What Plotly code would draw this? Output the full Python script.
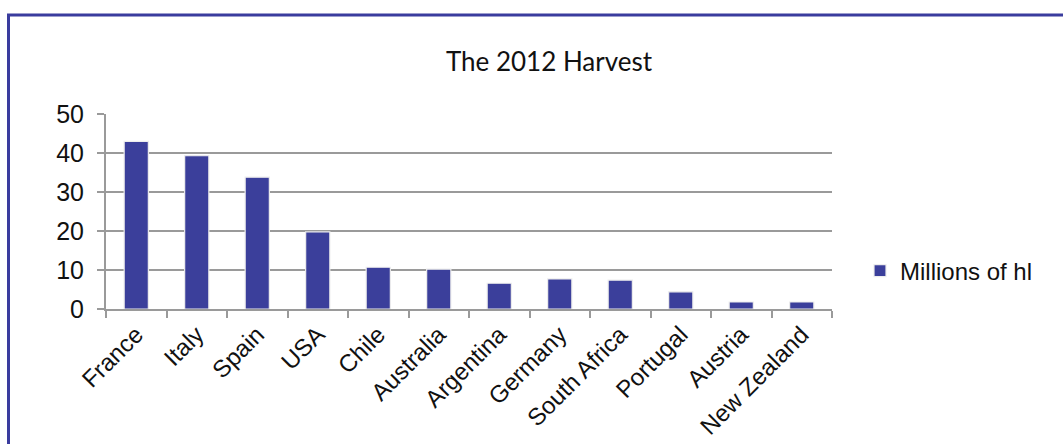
import plotly.graph_objects as go

countries = ["France", "Italy", "Spain", "USA", "Chile", "Australia", "Argentina",
             "Germany", "South Africa", "Portugal", "Austria", "New Zealand"]
millions_hl = [43.0, 39.3, 33.8, 19.8, 10.7, 10.2, 6.6, 7.7, 7.4, 4.4, 1.8, 1.8]
series_name = "Millions of hl"
title_text = "The 2012 Harvest"

W, H = 1063, 444
L, R, T, B = 106, 231, 114, 135
pw, ph = W - L - R, H - T - B

def px_x(x):
    return (x - L) / pw

def px_y(y):
    return (H - B - y) / ph

fig = go.Figure()
fig.add_trace(go.Bar(
    x=countries, y=millions_hl, name=series_name,
    marker=dict(color="#3B3F9B", line=dict(color="#EDEDED", width=1.2)),
    width=0.4, showlegend=True,
))

fig.update_layout(
    width=W, height=H,
    margin=dict(l=L, r=R, t=T, b=B, autoexpand=False),
    paper_bgcolor="white", plot_bgcolor="white",
    font=dict(family="Liberation Sans, Arial", size=24, color="#111111"),
    title=dict(text=title_text, x=px_x(549), xref="paper", xanchor="center",
               y=1 - 62 / H, yanchor="middle",
               font=dict(family="Lato", size=26, color="#111111")),
    showlegend=True,
    legend=dict(x=px_x(860), y=px_y(271), xanchor="left", yanchor="middle",
                font=dict(size=24), itemwidth=30, bgcolor="rgba(0,0,0,0)"),
    bargap=0.6,
    shapes=[dict(type="rect", xref="paper", yref="paper",
                 x0=px_x(8.5), x1=px_x(1080), y0=px_y(470), y1=px_y(15),
                 line=dict(color="#3A3C9E", width=3), fillcolor="rgba(0,0,0,0)",
                 layer="below")],
)

fig.update_xaxes(
    type="category", showline=True, linecolor="#9A9A9A", linewidth=2,
    ticks="outside", tickson="boundaries", ticklen=7, tickwidth=2, tickcolor="#9A9A9A",
    tickangle=-45, tickfont=dict(size=24), showgrid=False,
)
fig.update_yaxes(
    range=[0, 50], tickvals=[0, 10, 20, 30, 40, 50], showline=True,
    linecolor="#9A9A9A", linewidth=2, ticks="outside", ticklen=7, tickwidth=2,
    tickcolor="#9A9A9A", showgrid=True, gridcolor="#9A9A9A", gridwidth=2,
    zeroline=False, ticklabelstandoff=8, tickfont=dict(size=25),
)

fig.write_html("out.html")
